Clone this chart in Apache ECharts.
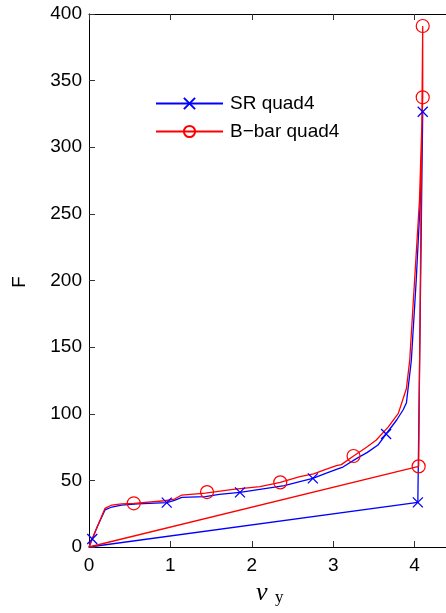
<!DOCTYPE html>
<html>
<head>
<meta charset="utf-8">
<script src="https://cdn.jsdelivr.net/npm/echarts@6/dist/echarts.min.js"></script>
<style>
  html, body { margin: 0; padding: 0; background: #fff; }
  #chart { width: 446px; height: 613px; }
</style>
</head>
<body>
<div id="chart"></div>
<script>
// SR quad4 curve (blue), marker points flagged in srMarks
const srX = [0, 0.04, 0.10, 0.197, 0.28, 0.40, 0.60, 0.955, 1.05, 1.14, 1.43, 1.60, 1.855, 2.18, 2.40, 2.59, 2.75, 2.90, 3.04, 3.12, 3.29, 3.42, 3.55, 3.65, 3.78, 3.86, 3.90, 3.96, 4.02, 4.07, 4.10, 4.04, 0]
const srY = [0, 6, 15, 27.8, 30, 31.5, 32.3, 33.3, 35, 37.3, 37.8, 39.5, 41, 44, 46, 49, 51.5, 55, 58.3, 60, 66.5, 71, 76.5, 84.8, 95.3, 103, 108.3, 140, 200, 260, 326.7, 33.5, 0]
const srMarks = [1, 7, 12, 16, 23, 30, 31]

// B-bar quad4 curve (red)
const bbX = [0, 0.08, 0.197, 0.28, 0.40, 0.55, 0.93, 1.05, 1.14, 1.43, 1.45, 1.77, 2.10, 2.35, 2.59, 2.76, 2.90, 3.04, 3.10, 3.25, 3.41, 3.53, 3.68, 3.80, 3.90, 3.94, 4.06, 4.10, 4.10, 4.05, 0]
const bbY = [0, 12, 29, 31.5, 32.3, 32.8, 34.7, 36, 39, 40.5, 41.2, 43.3, 45.3, 48.5, 52.8, 54.8, 58, 61, 61.8, 68.3, 74.8, 80.3, 90.3, 100.3, 119, 140, 260, 337.5, 391, 60.5, 0]
const bbMarks = [5, 10, 13, 19, 27, 28, 29]

const xTicks = [0, 1, 2, 3, 4]
const yTicks = [0, 50, 100, 150, 200, 250, 300, 350, 400]

const font = 'Liberation Sans, Arial, sans-serif'

function toData (xs, ys, marks) {
  return xs.map((x, i) => marks.indexOf(i) >= 0
    ? { value: [x, ys[i]] }
    : { value: [x, ys[i]], symbol: 'none' })
}

const chart = echarts.init(document.getElementById('chart'))

const axisCommon = {
  type: 'value',
  min: 0,
  splitLine: { show: false },
  axisLine: { show: true, onZero: false, lineStyle: { color: '#000', width: 1 } },
  axisTick: { inside: true, length: 6, lineStyle: { color: '#333' } }
}

const option = {
  animation: false,
  backgroundColor: '#fff',
  grid: { left: 89, top: 14, right: 0, bottom: 66 },
  legend: {
    orient: 'vertical',
    left: 155,
    top: 94,
    padding: 0,
    itemWidth: 67,
    itemHeight: 14,
    itemGap: 9,
    selectedMode: false,
    textStyle: { fontFamily: font, fontSize: 19, color: '#000', padding: [0, 0, 0, 2] },
    data: ['SR quad4', 'B\u2212bar quad4']
  },
  xAxis: [
    Object.assign({}, axisCommon, {
      position: 'bottom',
      max: 4.386,
      interval: 1,
      axisLabel: { show: true, showMaxLabel: false, margin: 9, fontFamily: font, fontSize: 19, color: '#000',
        formatter: v => (xTicks.indexOf(v) >= 0 ? String(v) : '') }
    }),
    Object.assign({}, axisCommon, {
      position: 'top',
      max: 4.386,
      interval: 1,
      axisLabel: { show: false }
    })
  ],
  yAxis: [
    Object.assign({}, axisCommon, {
      position: 'left',
      max: yTicks[yTicks.length - 1],
      interval: 50,
      axisLabel: { margin: 7, fontFamily: font, fontSize: 19, color: '#000' }
    })
  ],
  graphic: [
    { type: 'text', x: 20, y: 282, rotation: Math.PI / 2,
      style: { text: 'F', font: '19px ' + font, fill: '#000', textAlign: 'center', textVerticalAlign: 'middle' } },
    { type: 'text', x: 256, y: 593,
      style: { text: 'v', font: 'italic 26px Liberation Serif, serif', fill: '#000', textAlign: 'left', textVerticalAlign: 'middle' } },
    { type: 'text', x: 275, y: 598,
      style: { text: 'y', font: '17px Liberation Serif, serif', fill: '#000', textAlign: 'left', textVerticalAlign: 'middle' } }
  ],
  series: [
    {
      name: 'SR quad4',
      type: 'line',
      showSymbol: true,
      showAllSymbol: true,
      symbol: 'path://M0,0L10,10M10,0L0,10',
      symbolSize: 10,
      silent: true,
      lineStyle: { color: '#0000ff', width: 1.3 },
      itemStyle: { color: 'transparent', borderColor: '#0000ff', borderWidth: 1.3 },
      emphasis: { disabled: true },
      data: toData(srX, srY, srMarks)
    },
    {
      name: 'B\u2212bar quad4',
      type: 'line',
      showSymbol: true,
      showAllSymbol: true,
      symbol: 'circle',
      symbolSize: 13,
      silent: true,
      lineStyle: { color: '#ff0000', width: 1.3 },
      itemStyle: { color: 'transparent', borderColor: '#ff0000', borderWidth: 1.2 },
      emphasis: { disabled: true },
      data: toData(bbX, bbY, bbMarks)
    }
  ]
}

chart.setOption(option)
</script>
</body>
</html>
